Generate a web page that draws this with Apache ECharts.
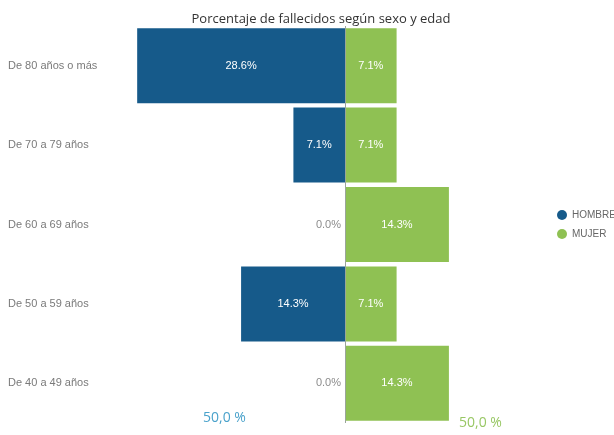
<!DOCTYPE html>
<html>
<head>
<meta charset="utf-8">
<script src="https://cdn.jsdelivr.net/npm/echarts@6/dist/echarts.min.js"></script>
<style>
  html, body { margin: 0; padding: 0; background: #ffffff; }
  #chart { width: 614px; height: 435px; }
</style>
</head>
<body>
<div id="chart"></div>
<script>
// Age groups, top to bottom
const ageGroups = ['De 80 años o más', 'De 70 a 79 años', 'De 60 a 69 años', 'De 50 a 59 años', 'De 40 a 49 años'];
// Share of deaths (%) by sex
const hombre = [28.6, 7.1, 0.0, 14.3, 0.0];
const mujer = [7.1, 7.1, 14.3, 7.1, 14.3];
// Totals shown under each side
const totalHombre = '50,0 %';
const totalMujer = '50,0 %';

const BLUE = '#165a8a';
const GREEN = '#8fc153';
const fmt = v => Math.abs(v).toFixed(1) + '%';

function toItems(values, sign) {
  return values.map(v => {
    if (v === 0) {
      return {
        value: 0,
        label: { position: sign < 0 ? 'left' : 'right', color: '#8c8c8c', distance: 4 }
      };
    }
    return { value: sign * v };
  });
}

const chart = echarts.init(document.getElementById('chart'), null, { renderer: 'canvas' });
chart.setOption({
  animation: false,
  title: {
    text: 'Porcentaje de fallecidos según sexo y edad',
    left: 316, top: 8, textAlign: 'center',
    textStyle: { fontFamily: 'Open Sans', fontSize: 13, fontWeight: 'normal', color: '#333333' }
  },
  legend: {
    orient: 'vertical', left: 552, top: 205,
    icon: 'circle', itemWidth: 10, itemHeight: 10, itemGap: 9,
    textStyle: { fontFamily: 'Liberation Sans', fontSize: 10, color: '#666666' },
    data: ['HOMBRE', 'MUJER']
  },
  grid: { left: 127, right: 51, top: 26, bottom: 12 },
  xAxis: {
    type: 'value', min: -30, max: 30, show: false
  },
  yAxis: {
    type: 'category', inverse: true, data: ageGroups,
    axisLine: { show: false, onZero: false },
    axisTick: { show: false },
    splitLine: { show: false },
    axisLabel: {
      align: 'left', margin: 119,
      fontFamily: 'Liberation Sans', fontSize: 11, color: '#7a7a7a'
    }
  },
  series: [
    {
      name: 'HOMBRE', type: 'bar', barWidth: 75, barGap: '-100%',
      itemStyle: { color: BLUE },
      label: { show: true, position: 'inside', color: '#ffffff', fontFamily: 'Liberation Sans', fontSize: 11, formatter: p => fmt(p.value) },
      data: toItems(hombre, -1),
      markLine: {
        silent: true, symbol: 'none', label: { show: false },
        lineStyle: { color: '#9aa59a', width: 1, type: 'solid' },
        data: [{ xAxis: 0 }]
      }
    },
    {
      name: 'MUJER', type: 'bar', barWidth: 75,
      itemStyle: { color: GREEN },
      label: { show: true, position: 'inside', color: '#ffffff', fontFamily: 'Liberation Sans', fontSize: 11, formatter: p => fmt(p.value) },
      data: toItems(mujer, 1)
    }
  ],
  graphic: [
    {
      type: 'text', left: 203, top: 411,
      style: { text: totalHombre, fill: '#4aa2cb', font: '14px "Open Sans"' }
    },
    {
      type: 'text', left: 459, top: 416,
      style: { text: totalMujer, fill: '#98c764', font: '14px "Open Sans"' }
    }
  ]
});
</script>
</body>
</html>
